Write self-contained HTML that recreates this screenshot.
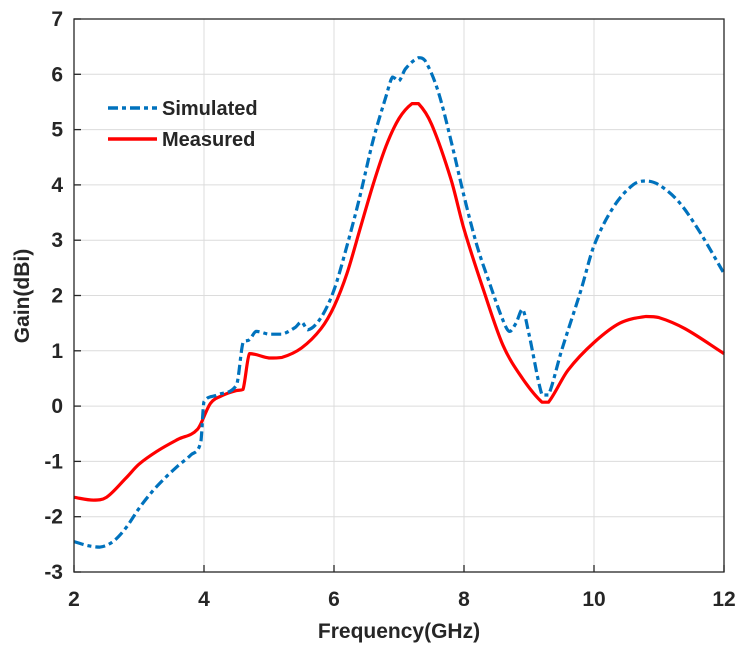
<!DOCTYPE html>
<html><head><meta charset="utf-8"><style>
body{margin:0;background:#fff}
text{font-family:"Liberation Sans",Arial,sans-serif;font-weight:bold;fill:#262626}
</style></head><body>
<svg id="chart" width="748" height="652" viewBox="0 0 748 652" xmlns="http://www.w3.org/2000/svg">
<g id="grid"></g>
<g id="series"></g>
<rect x="74" y="19" width="650" height="553" fill="none" stroke="#262626" stroke-width="1.3"/>
<g id="ticks"></g>
<text x="399" y="638" font-size="21" text-anchor="middle">Frequency(GHz)</text>
<text transform="translate(29,296) rotate(-90)" font-size="21" text-anchor="middle">Gain(dBi)</text>
<g>
<line x1="108" y1="108" x2="157" y2="108" stroke="#0072bd" stroke-width="3.5" stroke-dasharray="10,4,4,4"/>
<text x="162" y="115" font-size="20" fill="#000">Simulated</text>
<line x1="108" y1="139" x2="157" y2="139" stroke="#ff0000" stroke-width="3.5"/>
<text x="162" y="146" font-size="20" fill="#000">Measured</text>
</g>
</svg>
<script>
const xTicks=[2,4,6,8,10,12];
const yTicks=[-3,-2,-1,0,1,2,3,4,5,6,7];
const simFreq=[2,2.2,2.4,2.6,2.8,3.0,3.2,3.4,3.6,3.8,3.95,4.0,4.2,4.5,4.6,4.7,4.8,5.0,5.2,5.4,5.5,5.6,5.8,6.0,6.2,6.4,6.6,6.8,6.9,7.0,7.1,7.3,7.4,7.6,7.8,8.0,8.2,8.4,8.6,8.7,8.8,8.9,9.0,9.2,9.3,9.5,9.8,10.0,10.3,10.6,10.8,11.0,11.3,11.6,12];
const simGain=[-2.45,-2.52,-2.55,-2.45,-2.2,-1.85,-1.55,-1.3,-1.08,-0.88,-0.65,0.08,0.2,0.38,1.15,1.2,1.35,1.3,1.3,1.42,1.52,1.38,1.6,2.1,2.9,3.8,4.8,5.6,5.95,5.88,6.1,6.3,6.25,5.7,4.8,3.8,2.9,2.2,1.55,1.35,1.5,1.75,1.3,0.2,0.2,1.0,2.1,2.9,3.6,4.0,4.07,4.0,3.7,3.2,2.4];
const measFreq=[2,2.3,2.5,2.8,3.0,3.3,3.6,3.9,4.1,4.3,4.5,4.6,4.7,5.0,5.2,5.5,5.8,6.0,6.2,6.4,6.6,6.8,7.0,7.2,7.3,7.5,7.8,8.0,8.3,8.6,8.9,9.2,9.3,9.6,10.0,10.4,10.8,11.0,11.4,12];
const measGain=[-1.65,-1.7,-1.65,-1.3,-1.05,-0.8,-0.6,-0.42,0.05,0.2,0.28,0.3,0.95,0.87,0.88,1.05,1.4,1.8,2.4,3.2,4.0,4.7,5.2,5.47,5.47,5.1,4.1,3.2,2.1,1.1,0.5,0.07,0.07,0.65,1.15,1.5,1.62,1.6,1.4,0.95];
const L=74,R=724,T=19,B=572;
const xs=v=>L+(v-2)/10*(R-L);
const ys=v=>B-(v+3)/10*(B-T);
const NS='http://www.w3.org/2000/svg';
const grid=document.getElementById('grid'),ticks=document.getElementById('ticks'),ser=document.getElementById('series');
function mk(tag,attrs,parent){const e=document.createElementNS(NS,tag);for(const k in attrs)e.setAttribute(k,attrs[k]);parent.appendChild(e);return e;}
xTicks.forEach(v=>{
  const g=mk('line',{x1:xs(v),x2:xs(v),y1:T,y2:B,stroke:'#dcdcdc','stroke-width':1},grid);
  
  
  const tk=mk('line',{x1:xs(v),x2:xs(v),y1:B,y2:B-7,stroke:'#262626','stroke-width':1.3},ticks);
  
  
  const t=mk('text',{x:xs(v),y:B+34,'font-size':21,'text-anchor':'middle'},ticks);
  
  
  t.textContent=v;
});
yTicks.forEach(v=>{
  const g=mk('line',{x1:L,x2:R,y1:ys(v),y2:ys(v),stroke:'#dcdcdc','stroke-width':1},grid);
  
  
  const tk=mk('line',{x1:L,x2:L+7,y1:ys(v),y2:ys(v),stroke:'#262626','stroke-width':1.3},ticks);
  
  
  const t=mk('text',{x:L-11,y:ys(v)+7,'font-size':21,'text-anchor':'end'},ticks);
  
  
  t.textContent=v;
});
function smooth(f,g){
  const p=f.map((x,i)=>[xs(x),ys(g[i])]);
  let d='M'+p[0][0].toFixed(1)+','+p[0][1].toFixed(1);
  const k=0.35;
  for(let i=0;i<p.length-1;i++){
    const p0=p[i-1]||p[i],p1=p[i],p2=p[i+1],p3=p[i+2]||p[i+1];
    const dx=p2[0]-p1[0];
    let m1=(p2[1]-p0[1])/((p2[0]-p0[0])||1), m2=(p3[1]-p1[1])/((p3[0]-p1[0])||1);
    const s=(p2[1]-p1[1])/dx;
    if(Math.sign(m1)!==Math.sign(s))m1=0; if(Math.sign(m2)!==Math.sign(s))m2=0;
    if(Math.abs(m1)>3*Math.abs(s))m1=3*s; if(Math.abs(m2)>3*Math.abs(s))m2=3*s;
    const c1=[p1[0]+dx/3,p1[1]+m1*dx/3],c2=[p2[0]-dx/3,p2[1]-m2*dx/3];
    d+=' C'+c1[0].toFixed(1)+','+c1[1].toFixed(1)+' '+c2[0].toFixed(1)+','+c2[1].toFixed(1)+' '+p2[0].toFixed(1)+','+p2[1].toFixed(1);
  }
  return d;
}
const m=mk('path',{d:smooth(measFreq,measGain),fill:'none',stroke:'#ff0000','stroke-width':3.2,'stroke-linejoin':'round'},ser);


const s=mk('path',{d:smooth(simFreq,simGain),fill:'none',stroke:'#0072bd','stroke-width':3.2,'stroke-dasharray':'10,4,4,4'},ser);


</script>
</body></html>
